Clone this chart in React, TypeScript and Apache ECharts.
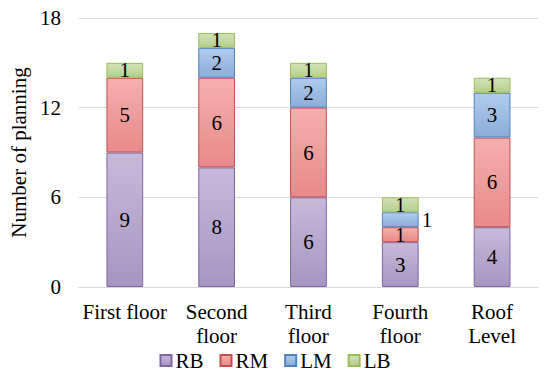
import React, { useEffect, useRef } from "react";
import * as echarts from "echarts";

const categories = ["First floor", "Second\nfloor", "Third\nfloor", "Fourth\nfloor", "Roof\nLevel"];
const seriesNames = ["RB", "RM", "LM", "LB"];
const rbValues = [9, 8, 6, 3, 4];
const rmValues = [5, 6, 6, 1, 6];
const lmValues = [0, 2, 2, 1, 3];
const lbValues = [1, 1, 1, 1, 1];
const yTicks = { min: 0, max: 18, interval: 6 };

const palettes = [
  { top: "#c8b9da", bottom: "#a795c0", border: "#8064a2" },
  { top: "#f4b0ae", bottom: "#e8898a", border: "#c0504d" },
  { top: "#b0cbec", bottom: "#8cacd8", border: "#4f81bd" },
  { top: "#d2e3b6", bottom: "#b5cd8e", border: "#9bbb59" },
];

const FONT = "'Liberation Serif', 'Times New Roman', serif";
const FS = 21;

export default function App() {
  const ref = useRef<HTMLDivElement>(null);
  useEffect(() => {
    document.body.style.margin = "0";
    if (!ref.current) return;
    const chart = echarts.init(ref.current, undefined, { renderer: "svg" });
    const all = [rbValues, rmValues, lmValues, lbValues];
    const series = all.map((vals, si) => ({
      name: seriesNames[si],
      type: "bar",
      stack: "total",
      barWidth: "40%",
      itemStyle: {
        color: new echarts.graphic.LinearGradient(0, 0, 0, 1, [
          { offset: 0, color: palettes[si].top },
          { offset: 1, color: palettes[si].bottom },
        ]),
        borderColor: palettes[si].border,
        borderWidth: 1,
      },
      label: {
        show: true,
        position: "inside",
        color: "#000",
        fontFamily: FONT,
        fontSize: FS,
        formatter: (p: any) => (p.value === 0 ? "" : String(p.value)),
      },
      data: vals.map((v, ci) => {
        const item: any = { value: v };
        if (v === 0) item.itemStyle = { borderWidth: 0 };
        if (si === 2 && ci === 3) item.label = { position: "right", distance: 3 };
        return item;
      }),
    }));
    chart.setOption({
      animation: false,
      textStyle: { fontFamily: FONT },
      grid: { left: 78, right: 12, top: 18, bottom: 91 },
      legend: {
        data: seriesNames,
        left: "center",
        bottom: 2,
        itemWidth: 11,
        itemHeight: 11,
        itemGap: 16,
        icon: "rect",
        textStyle: { fontFamily: FONT, fontSize: FS, color: "#000", padding: [0, 0, 0, -1] },
      },
      xAxis: {
        type: "category",
        data: categories,
        axisLine: { lineStyle: { color: "#d9d9d9" } },
        axisTick: { show: false },
        axisLabel: { color: "#000", fontFamily: FONT, fontSize: FS, lineHeight: 24, margin: 13, interval: 0 },
      },
      yAxis: {
        type: "value",
        min: yTicks.min,
        max: yTicks.max,
        interval: yTicks.interval,
        name: "Number of planning",
        nameLocation: "middle",
        nameGap: 42,
        nameTextStyle: { color: "#000", fontFamily: FONT, fontSize: FS },
        axisLine: { show: false },
        axisTick: { show: false },
        axisLabel: { color: "#000", fontFamily: FONT, fontSize: FS, margin: 18 },
        splitLine: { lineStyle: { color: "#d9d9d9" } },
      },
      series,
    });
    return () => chart.dispose();
  }, []);
  return <div ref={ref} style={{ width: 550, height: 378 }} />;
}
